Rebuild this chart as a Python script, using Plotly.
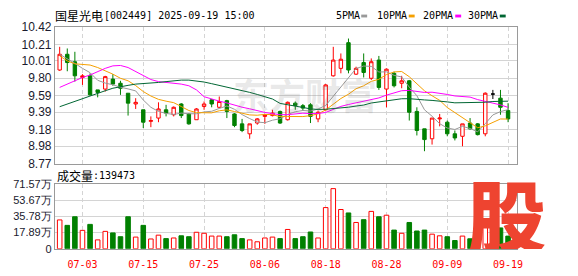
import plotly.graph_objects as go

# ---------------- data ----------------
dates = ["06-30", "07-01", "07-02", "07-03", "07-04", "07-07", "07-08", "07-09", "07-10", "07-11",
         "07-14", "07-15", "07-16", "07-17", "07-18", "07-21", "07-22", "07-23", "07-24", "07-25",
         "07-28", "07-29", "07-30", "07-31", "08-01", "08-04", "08-05", "08-06", "08-07", "08-08",
         "08-11", "08-12", "08-13", "08-14", "08-15", "08-18", "08-19", "08-20", "08-21", "08-22",
         "08-25", "08-26", "08-27", "08-28", "08-29", "09-01", "09-02", "09-03", "09-04", "09-05",
         "09-08", "09-09", "09-10", "09-11", "09-12", "09-15", "09-16", "09-17", "09-18", "09-19"]

open_ = [9.90, 10.09, 10.00, 9.81, 9.83, 9.66, 9.67, 9.79, 9.74, 9.62,
         9.49, 9.42, 9.28, 9.32, 9.42, 9.36, 9.49, 9.37, 9.30, 9.46,
         9.54, 9.45, 9.53, 9.37, 9.25, 9.13, 9.26, 9.34, 9.35, 9.40,
         9.30, 9.50, 9.47, 9.48, 9.31, 9.42, 9.83, 9.92, 10.23, 9.85,
         9.99, 9.80, 10.02, 9.67, 9.86, 9.74, 9.77, 9.40, 9.19, 9.07,
         9.31, 9.27, 9.13, 9.10, 9.26, 9.25, 9.13, 9.61, 9.56, 9.41]
high = [10.18, 10.16, 10.12, 9.85, 9.86, 9.66, 9.83, 9.85, 9.77, 9.62,
        9.56, 9.42, 9.34, 9.51, 9.48, 9.46, 9.50, 9.38, 9.44, 9.52,
        9.55, 9.58, 9.54, 9.38, 9.31, 9.25, 9.32, 9.37, 9.42, 9.41,
        9.52, 9.52, 9.49, 9.50, 9.41, 9.73, 10.18, 10.10, 10.28, 9.94,
        10.10, 10.04, 10.07, 9.92, 9.88, 9.83, 9.78, 9.45, 9.19, 9.32,
        9.37, 9.29, 9.17, 9.25, 9.32, 9.26, 9.63, 9.66, 9.66, 9.50]
low = [9.89, 9.885, 9.76, 9.72, 9.59, 9.57, 9.64, 9.71, 9.60, 9.35,
       9.43, 9.20, 9.21, 9.27, 9.34, 9.34, 9.32, 9.24, 9.30, 9.42,
       9.45, 9.44, 9.32, 9.21, 9.15, 9.07, 9.24, 9.25, 9.34, 9.25,
       9.29, 9.42, 9.41, 9.26, 9.27, 9.41, 9.82, 9.86, 9.86, 9.84,
       9.81, 9.78, 9.66, 9.45, 9.69, 9.68, 9.29, 9.11, 8.92, 9.00,
       9.22, 9.10, 9.05, 8.98, 9.18, 9.11, 9.10, 9.55, 9.36, 9.27]
close = [10.09, 9.99, 9.83, 9.83, 9.60, 9.63, 9.82, 9.73, 9.68, 9.50,
         9.51, 9.27, 9.29, 9.43, 9.38, 9.45, 9.35, 9.25, 9.43, 9.49,
         9.49, 9.52, 9.40, 9.23, 9.17, 9.25, 9.31, 9.36, 9.38, 9.26,
         9.51, 9.47, 9.44, 9.34, 9.39, 9.72, 10.02, 10.03, 9.90, 9.92,
         9.87, 10.00, 9.69, 9.91, 9.71, 9.77, 9.39, 9.17, 9.06, 9.32,
         9.32, 9.13, 9.08, 9.25, 9.19, 9.12, 9.62, 9.61, 9.45, 9.31]

ma5 = [10.09, 10.04, 9.98, 9.92, 9.868, 9.776, 9.742, 9.722, 9.692, 9.672,
       9.648, 9.538, 9.450, 9.400, 9.376, 9.364, 9.380, 9.372, 9.372, 9.394,
       9.402, 9.436, 9.466, 9.426, 9.362, 9.314, 9.272, 9.264, 9.294, 9.312,
       9.364, 9.396, 9.412, 9.404, 9.430, 9.472, 9.582, 9.700, 9.812, 9.918,
       9.948, 9.944, 9.876, 9.878, 9.836, 9.816, 9.694, 9.590, 9.420, 9.342,
       9.252, 9.200, 9.182, 9.220, 9.194, 9.154, 9.252, 9.358, 9.398, 9.422]
ma10 = [10.07, 10.01, 9.975, 9.965, 9.96, 9.93, 9.89, 9.85, 9.80, 9.770,
        9.712, 9.640, 9.586, 9.546, 9.524, 9.506, 9.459, 9.411, 9.386, 9.385,
        9.383, 9.408, 9.419, 9.399, 9.378, 9.358, 9.354, 9.365, 9.360, 9.337,
        9.339, 9.334, 9.338, 9.349, 9.371, 9.418, 9.489, 9.556, 9.608, 9.674,
        9.710, 9.763, 9.788, 9.845, 9.877, 9.882, 9.819, 9.733, 9.649, 9.589,
        9.534, 9.447, 9.386, 9.320, 9.268, 9.203, 9.226, 9.270, 9.309, 9.308]
ma20 = [9.69, 9.73, 9.77, 9.81, 9.84, 9.88, 9.92, 9.95, 9.955, 9.93,
        9.88, 9.83, 9.785, 9.76, 9.75, 9.74, 9.73, 9.71, 9.66, 9.578,
        9.548, 9.524, 9.503, 9.473, 9.451, 9.432, 9.407, 9.388, 9.373, 9.361,
        9.361, 9.371, 9.379, 9.374, 9.375, 9.388, 9.422, 9.461, 9.484, 9.506,
        9.525, 9.549, 9.563, 9.597, 9.624, 9.650, 9.654, 9.645, 9.629, 9.632,
        9.622, 9.605, 9.587, 9.583, 9.573, 9.543, 9.523, 9.502, 9.479, 9.449]
ma30 = [9.457, 9.49, 9.525, 9.555, 9.585, 9.62, 9.65, 9.68, 9.70, 9.715,
        9.73, 9.735, 9.74, 9.75, 9.76, 9.77, 9.778, 9.778, 9.77, 9.755,
        9.735, 9.715, 9.69, 9.67, 9.65, 9.63, 9.605, 9.58, 9.55, 9.497,
        9.478, 9.461, 9.448, 9.431, 9.424, 9.427, 9.434, 9.444, 9.451, 9.465,
        9.477, 9.502, 9.515, 9.531, 9.542, 9.553, 9.554, 9.551, 9.539, 9.533,
        9.528, 9.515, 9.504, 9.505, 9.505, 9.501, 9.511, 9.520, 9.522, 9.524]

# volume in 万 (10k)
volume = [31.8, 25.8, 35.3, 20.3, 26.9, 9.8, 19.2, 17.5, 13.3, 35.3,
          12.9, 25.8, 10.8, 15.0, 11.2, 11.9, 14.3, 13.3, 18.2, 17.1,
          14.0, 14.0, 13.3, 15.4, 11.2, 9.8, 7.7, 11.9, 12.9, 11.2,
          21.3, 11.2, 13.3, 18.5, 11.9, 45.4, 66.3, 43.3, 39.5, 29.0,
          32.1, 41.2, 35.3, 37.0, 20.6, 17.1, 29.0, 19.6, 20.6, 16.1,
          14.3, 13.3, 9.1, 14.0, 11.0, 9.1, 24.1, 15.0, 23.0, 13.95]
# 1 = up day (red hollow bar), -1 = down day (green bar)
volume_dir = [1, -1, -1, 1, -1, 1, 1, -1, -1, -1,
              1, -1, 1, 1, -1, 1, -1, -1, 1, 1,
              1, 1, -1, -1, -1, 1, 1, 1, 1, -1,
              1, -1, -1, -1, 1, 1, 1, 1, -1, 1,
              -1, 1, -1, 1, -1, 1, -1, -1, -1, 1,
              1, -1, -1, 1, -1, -1, 1, -1, -1, -1]

price_ticks = [8.77, 8.98, 9.18, 9.39, 9.59, 9.80, 10.01, 10.21, 10.42]
price_tick_text = ["8.77", "8.98", "9.18", "9.39", "9.59", "9.80", "10.01", "10.21", "10.42"]
vol_ticks = [0, 17.89, 35.78, 53.67, 71.57]
vol_tick_text = ["0", "17.89万", "35.78万", "53.67万", "71.57万"]
date_ticks = ["07-03", "07-15", "07-25", "08-06", "08-18", "08-28", "09-09", "09-19"]
last_volume = "139473"
stock_name = "国星光电"
stock_info = "[002449] 2025-09-19 15:00"
ma_names = ["5PMA", "10PMA", "20PMA", "30PMA"]

# ---------------- styling ----------------
W, H = 578, 276
RED = "#ff0000"
GREEN = "#008000"
MA_COLORS = ["#999999", "#f5a000", "#ff00ff", "#006633"]
GRID = "#d4d4d4"
BORDER = "#9a9a9a"
MONO = "DejaVu Sans Mono"
SANS = "Liberation Sans"
CJK = "Noto Sans CJK SC"


def px(x):
    return x / W


def py(y):
    return 1 - y / H


X_DOMAIN = [px(55.5), px(522)]
X_RANGE = [-0.625, 60.12]

normal = [i for i in range(len(dates)) if open_[i] != close[i]]
flat = [i for i in range(len(dates)) if open_[i] == close[i]]

fig = go.Figure()

fig.add_trace(go.Candlestick(
    x=[dates[i] for i in normal],
    open=[open_[i] for i in normal], high=[high[i] for i in normal],
    low=[low[i] for i in normal], close=[close[i] for i in normal],
    increasing=dict(line=dict(color=RED, width=1), fillcolor="#ffffff"),
    decreasing=dict(line=dict(color=GREEN, width=1), fillcolor=GREEN),
    whiskerwidth=0, hoverinfo="skip", showlegend=False, xaxis="x", yaxis="y"))
fig.add_trace(go.Candlestick(
    x=[dates[i] for i in flat],
    open=[open_[i] for i in flat], high=[high[i] for i in flat],
    low=[low[i] for i in flat], close=[close[i] for i in flat],
    increasing=dict(line=dict(color="#000000", width=1), fillcolor="#000000"),
    decreasing=dict(line=dict(color="#000000", width=1), fillcolor="#000000"),
    whiskerwidth=0, hoverinfo="skip", showlegend=False, xaxis="x", yaxis="y"))

for ma, col in zip([ma5, ma10, ma20, ma30], MA_COLORS):
    fig.add_trace(go.Scatter(x=dates, y=ma, mode="lines",
                             line=dict(color=col, width=1),
                             hoverinfo="skip", showlegend=False,
                             xaxis="x", yaxis="y"))

fig.add_trace(go.Bar(
    x=dates, y=volume, width=0.6,
    marker=dict(color=["#ffffff" if d > 0 else GREEN for d in volume_dir],
                line=dict(color=[RED if d > 0 else GREEN for d in volume_dir], width=1)),
    hoverinfo="skip", showlegend=False, xaxis="x2", yaxis="y2"))

axis_common = dict(showline=True, mirror=True, linecolor=BORDER, linewidth=1,
                   zeroline=False, ticks="")

fig.update_layout(
    width=W, height=H, margin=dict(l=0, r=0, t=0, b=0),
    paper_bgcolor="#ffffff", plot_bgcolor="#ffffff",
    hovermode=False, showlegend=False, boxgap=0.36, boxmode="overlay", bargap=0.4,
    xaxis=dict(domain=X_DOMAIN, anchor="y", type="category", range=X_RANGE,
               categoryorder="array", categoryarray=dates,
               tickmode="array", tickvals=date_ticks, showticklabels=False,
               showgrid=True, gridcolor=GRID, griddash="4px,3px", gridwidth=1,
               rangeslider=dict(visible=False), **axis_common),
    yaxis=dict(domain=[py(165), py(21)], anchor="x", range=[8.77, 10.42],
               tickmode="array", tickvals=price_ticks, ticktext=price_tick_text,
               showgrid=True, gridcolor=GRID, gridwidth=1,
               tickfont=dict(family=SANS, size=12, color="#1a1a2e"),
               **axis_common),
    xaxis2=dict(domain=X_DOMAIN, anchor="y2", type="category", range=X_RANGE,
                categoryorder="array", categoryarray=dates,
                tickmode="array", tickvals=date_ticks, showticklabels=True,
                tickfont=dict(family=MONO, size=10, color=RED),
                ticklabelstandoff=6,
                showgrid=True, gridcolor=GRID, griddash="4px,3px", gridwidth=1,
                **axis_common),
    yaxis2=dict(domain=[py(254.7), py(186.3)], anchor="x2", range=[0, 71.57],
                tickmode="array", tickvals=vol_ticks, ticktext=vol_tick_text,
                showgrid=True, gridcolor=GRID, gridwidth=1,
                tickfont=dict(family="Liberation Sans Narrow, " + SANS, size=11, color="#1a1a2e"),
                **axis_common),
)

ann = []
# watermark
ann.append(dict(text="东方财富", x=px(308), y=py(92), xref="paper", yref="paper",
                showarrow=False, xanchor="center", yanchor="middle",
                font=dict(family=CJK, size=36, color="rgba(120,120,120,0.17)", weight="bold")))
# title
ann.append(dict(text=stock_name, x=px(54), y=py(9), xref="paper", yref="paper",
                showarrow=False, xanchor="left", yanchor="middle",
                font=dict(family=CJK, size=12, color="#000000")))
ann.append(dict(text=stock_info, x=px(103), y=py(9), xref="paper", yref="paper",
                showarrow=False, xanchor="left", yanchor="middle",
                font=dict(family=MONO, size=10, color="#000000")))
# MA legend
legend_x = [338, 379, 425, 471]
dash_x = [365, 413, 460, 505]
shapes = []
for name, lx, dx, col in zip(ma_names, legend_x, dash_x, MA_COLORS):
    ann.append(dict(text=name, x=px(lx), y=py(9), xref="paper", yref="paper",
                    showarrow=False, xanchor="left", yanchor="middle",
                    font=dict(family=MONO, size=10, color="#000000")))
    shapes.append(dict(type="rect", xref="paper", yref="paper",
                       x0=px(dx), x1=px(dx + 6), y0=py(11), y1=py(8),
                       fillcolor=col, line=dict(width=0)))
# volume caption
ann.append(dict(text="成交量", x=px(56), y=py(177), xref="paper", yref="paper",
                showarrow=False, xanchor="left", yanchor="middle",
                font=dict(family=CJK, size=12, color="#000000")))
ann.append(dict(text=":" + last_volume, x=px(92), y=py(177), xref="paper", yref="paper",
                showarrow=False, xanchor="left", yanchor="middle",
                font=dict(family=MONO, size=10, color="#000000")))
# 股 logo
ann.append(dict(text="股", x=px(512), y=py(217), xref="paper", yref="paper",
                showarrow=False, xanchor="center", yanchor="middle",
                height=72, valign="middle", borderpad=0,
                font=dict(family=CJK, size=78, color="#ee4430", weight=900)))

fig.update_layout(annotations=ann, shapes=shapes)

fig.write_html("out.html")
